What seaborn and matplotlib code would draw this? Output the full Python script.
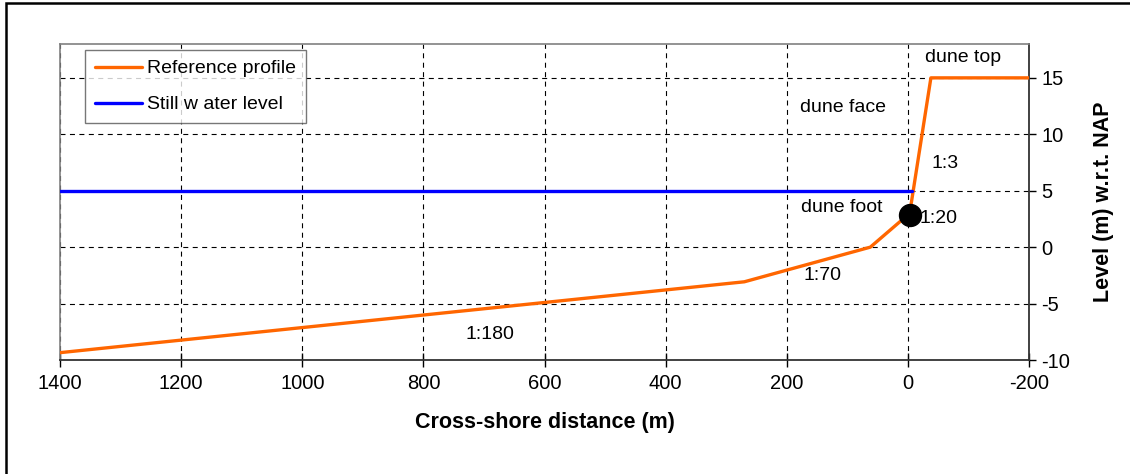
import pandas as pd
import matplotlib.pyplot as plt
import matplotlib.patches as mpatches
import seaborn as sns

# reference profile (cross-shore distance, level w.r.t. NAP)
profile_x = [1400, 270, 62, -3, -38, -200]
profile_y = [-9.35, -3.07, 0.0, 3.0, 15.0, 15.0]

# still water level
swl_x = [1400, -7]
swl_y = [5.0, 5.0]

# dune foot point
foot_x = [-3]
foot_y = [2.85]

# slope / zone annotations
ann_text = ['dune top', 'dune face', '1:3', 'dune foot', '1:20', '1:70', '1:180']
ann_x = [-91, 107, -62, 110, -50, 141, 690]
ann_y = [16.8, 12.4, 7.4, 3.5, 2.55, -2.5, -7.7]

xticks = [1400, 1200, 1000, 800, 600, 400, 200, 0, -200]
yticks = [-10, -5, 0, 5, 10, 15]

df_prof = pd.DataFrame({'x': profile_x, 'y': profile_y})
df_swl = pd.DataFrame({'x': swl_x, 'y': swl_y})

sns.set_style('white')
plt.rcParams['font.family'] = ['Liberation Sans', 'DejaVu Sans']
plt.rcParams['axes.unicode_minus'] = False
plt.rcParams['text.color'] = 'black'
plt.rcParams['axes.labelcolor'] = 'black'
plt.rcParams['xtick.color'] = 'black'
plt.rcParams['ytick.color'] = 'black'

fig = plt.figure(figsize=(11.3, 4.74), dpi=100)
ax = fig.add_axes([60 / 1130, 1 - 360 / 474, 969 / 1130, 316 / 474])

sns.lineplot(data=df_prof, x='x', y='y', sort=False, color='#FF6600', linewidth=2.4,
             label='Reference profile', ax=ax, zorder=3)
sns.lineplot(data=df_swl, x='x', y='y', sort=False, color='#0000FF', linewidth=2.4,
             label='Still w ater level', ax=ax, zorder=3)
ax.scatter(foot_x, foot_y, s=250, color='black', zorder=4)

for t, x, y in zip(ann_text, ann_x, ann_y):
    ax.text(x, y, t, fontsize=14, ha='center', va='center', zorder=5)

ax.set_xlim(1400, -200)
ax.set_ylim(-10, 18)
ax.set_xticks(xticks)
ax.set_yticks(yticks)
ax.yaxis.tick_right()
ax.yaxis.set_label_position('right')

ax.grid(True, linestyle=(0, (4.5, 4)), color='black', linewidth=0.8)
ax.tick_params(axis='x', direction='inout', length=10, width=1, labelsize=14.5, pad=5, bottom=True)
ax.tick_params(axis='y', direction='out', length=5, width=1, labelsize=14.5, pad=4, right=True, left=False)

ax.set_xlabel('Cross-shore distance (m)', fontsize=15.5, fontweight='bold', labelpad=14)
ax.set_ylabel('Level (m) w.r.t. NAP', fontsize=15.5, fontweight='bold', labelpad=16)

for side in ['top', 'left']:
    ax.spines[side].set_color('#808080')
    ax.spines[side].set_linewidth(1.2)
for side in ['bottom', 'right']:
    ax.spines[side].set_color('#333333')
    ax.spines[side].set_linewidth(1.3)

leg = ax.legend(loc='upper left', bbox_to_anchor=(0.026, 0.981), fontsize=14,
                frameon=True, fancybox=False, edgecolor='#555555', handlelength=2.4,
                borderpad=0.5, labelspacing=0.95, handletextpad=0.3, borderaxespad=0)
leg.get_frame().set_linewidth(1.0)
leg.set_zorder(6)

# outer frame of the chart
fig.patches.append(mpatches.Rectangle((6 / 1130, -0.05), 1.1, 1.05 - 3 / 474,
                                      transform=fig.transFigure, fill=False,
                                      edgecolor='black', linewidth=1.8))

fig.savefig('out.png', dpi=100)
